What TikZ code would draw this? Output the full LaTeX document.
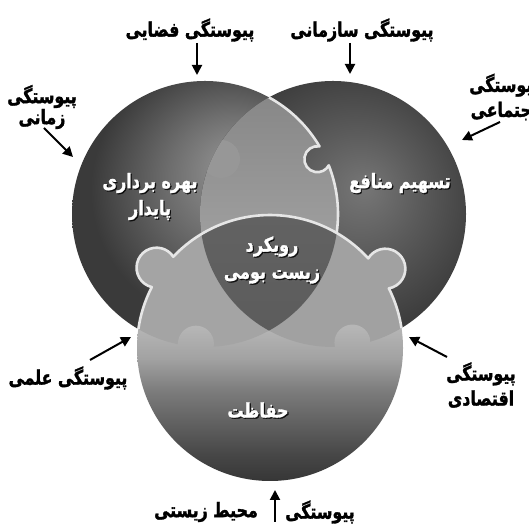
\documentclass[tikz,border=0pt]{standalone}
\usepackage{fontspec}
\usetikzlibrary{arrows.meta,calc}
\newfontfamily\fa[Script=Arabic, FakeStretch=0.79, FakeBold=1.5]{DejaVu Sans Bold}
\newfontfamily\fb[Script=Arabic, FakeStretch=0.80, FakeBold=1.5]{DejaVu Sans Bold}
\TeXXeTstate=1
\definecolor{lgA}{HTML}{9A9A9A}
\definecolor{lgB}{HTML}{6E6E6E}
\definecolor{lgC}{HTML}{3A3A3A}
\definecolor{rgA}{HTML}{767676}
\definecolor{rgB}{HTML}{5A5A5A}
\definecolor{rgC}{HTML}{3D3D3D}
\definecolor{bA}{HTML}{363636}
\definecolor{bB}{HTML}{474747}
\definecolor{bC}{HTML}{6A6A6A}
\definecolor{bD}{HTML}{7C7C7C}
\definecolor{bE}{HTML}{A2A2A2}
\definecolor{bF}{HTML}{B6B6B6}
\definecolor{lrT}{HTML}{858585}
\definecolor{lrB}{HTML}{B0B0B0}
\definecolor{lbC}{HTML}{A4A4A4}
\definecolor{rbC}{HTML}{A1A1A1}
\definecolor{trT}{HTML}{626262}
\definecolor{trB}{HTML}{545454}
\definecolor{lkC}{HTML}{979797}
\definecolor{seamC}{HTML}{E6E6E6}
\pgfdeclareradialshading{Lsh}{\pgfpoint{7bp}{9bp}}{color(0bp)=(lgA); color(12bp)=(lgB); color(25bp)=(lgC); color(50bp)=(lgC)}
\pgfdeclareradialshading{Rsh}{\pgfpoint{6bp}{5bp}}{color(0bp)=(rgA); color(12bp)=(rgB); color(25bp)=(rgC); color(50bp)=(rgC)}
\pgfdeclareverticalshading{Bsh}{100bp}{color(0bp)=(bA); color(25bp)=(bA); color(30bp)=(bB); color(38bp)=(bC); color(42bp)=(bD); color(48bp)=(bE); color(54bp)=(bF); color(100bp)=(bF)}
\begin{document}
\begin{tikzpicture}[x=1pt,y=1pt,
  lbl/.style={font=\fa\fontsize{20}{25}\selectfont, align=center, inner sep=0pt},
  inl/.style={lbl, text=white, font=\fb\fontsize{20}{27}\selectfont},
  shd/.style={lbl, text=black, opacity=0.8, font=\fb\fontsize{20}{27}\selectfont},
  arr/.style={line width=2pt, -{Triangle[length=10pt,width=10pt]}},
  seam/.style={draw=seamC, line width=2.6pt, line join=round}]
\useasboundingbox (0,0) rectangle (529,526);
\fill[white] (0,0) rectangle (529,526);
\coordinate (Lc) at (205,312);
\coordinate (Rc) at (333,312);
\coordinate (Bc) at (270,178);
% base circles
\shade[shading=Lsh] (Lc) circle[radius=133];
\shade[shading=Rsh] (Rc) circle[radius=133];
\shade[shading=Bsh] (Bc) circle[radius=133];
% overlaps
\begin{scope}
  \clip (Lc) circle[radius=133];
  \shade[top color=lrT, bottom color=lrB] (Rc) circle[radius=133];
  \fill[lbC] (Bc) circle[radius=133];
\end{scope}
\begin{scope}
  \clip (Rc) circle[radius=133];
  \fill[rbC] (Bc) circle[radius=133];
  \clip (Lc) circle[radius=133];
  \shade[top color=trT, bottom color=trB] (Bc) circle[radius=133];
\end{scope}
% knobs of the pieces
\begin{scope}
  \clip (221,367) circle[radius=19];
  \clip (Rc) circle[radius=133];
  \fill[lkC] (221,367) circle[radius=19];
\end{scope}
\begin{scope}
  \clip (317.35,366.80) circle[radius=13];
  \shade[shading=Rsh] (Rc) circle[radius=133];
\end{scope}
\begin{scope}
  \clip (195.93,182.32) circle[radius=18];
  \shade[shading=Bsh] (Bc) circle[radius=133];
\end{scope}
\begin{scope}
  \clip (352.44,183.46) circle[radius=18];
  \shade[shading=Bsh] (Bc) circle[radius=133];
\end{scope}
\begin{scope}
  \clip (Lc) circle[radius=133];
  \fill[lbC] (156.56,258.32) circle[radius=20];
\end{scope}
\begin{scope}
  \clip (Rc) circle[radius=133];
  \fill[rbC] (385.38,257.30) circle[radius=20];
\end{scope}
% white seams
\draw[seam] ($(Lc)+(61.2:133)$) arc[start angle=61.2, end angle=30.555, radius=133]
  arc[start angle=80.33, end angle=331.67, radius=13]
  arc[start angle=21.445, end angle=-8.2, radius=133];
\draw[seam] ($(Bc)+(171.8:133)$) arc[start angle=171.8, end angle=152.75, radius=133]
  arc[start angle=256.14, end angle=33.26, radius=20]
  arc[start angle=136.65, end angle=42.373, radius=133]
  arc[start angle=148.88, end angle=-79.88, radius=20]
  arc[start angle=26.627, end angle=8.6, radius=133];
% labels inside
\node[shd] (c1s) at (151.2,328.3) {\beginR بهره برداری\endR\\\beginR پایدار\endR};
\node[inl] (c1) at (150,329.5) {\beginR بهره برداری\endR\\\beginR پایدار\endR};
\node[shd] (c2s) at (401.2,341.8) {\beginR تسهیم منافع\endR};
\node[inl] (c2) at (400,343) {\beginR تسهیم منافع\endR};
\node[shd] (c3s) at (273.2,264.8) {\beginR رویکرد\endR\\\beginR زیست بومی\endR};
\node[inl] (c3) at (272,266) {\beginR رویکرد\endR\\\beginR زیست بومی\endR};
\node[shd] (c4s) at (259.2,114.8) {\beginR حفاظت\endR};
\node[inl] (c4) at (258,116) {\beginR حفاظت\endR};
% outer labels
\node[lbl] (t1) at (190,496) {\beginR پیوستگی فضایی\endR};
\node[lbl] (t2) at (362,496) {\beginR پیوستگی سازمانی\endR};
\node[lbl, font=\fa\fontsize{20}{21}\selectfont] (t3) at (42,419) {\beginR پیوستگی\endR\\\beginR زمانی\endR};
\node[lbl] (t4) at (504,429) {\beginR پیوستگی\endR\\\beginR اجتماعی\endR};
\node[lbl] (t5) at (68,148) {\beginR پیوستگی علمی\endR};
\node[lbl] (t6) at (481,141) {\beginR پیوستگی\endR\\\beginR اقتصادی\endR};
\node[lbl] (t7a) at (320,14) {\beginR پیوستگی\endR};
\node[lbl] (t7b) at (206,14) {\beginR محیط زیستی\endR};
% arrows
\coordinate (a1s) at (197,483); \coordinate (a1e) at (197,451);
\coordinate (a2s) at (350,483); \coordinate (a2e) at (350,452);
\coordinate (a3s) at (44,398);  \coordinate (a3e) at (73,369);
\coordinate (a4s) at (500,404); \coordinate (a4e) at (462,386);
\coordinate (a5s) at (90,166);  \coordinate (a5e) at (131,189);
\coordinate (a6s) at (447,169); \coordinate (a6e) at (409,189);
\coordinate (a7s) at (275,4);   \coordinate (a7e) at (275,36);
\draw[arr] (a1s) -- (a1e);
\draw[arr] (a2s) -- (a2e);
\draw[arr] (a3s) -- (a3e);
\draw[arr] (a4s) -- (a4e);
\draw[arr] (a5s) -- (a5e);
\draw[arr] (a6s) -- (a6e);
\draw[arr] (a7s) -- (a7e);
\end{tikzpicture}
\end{document}
